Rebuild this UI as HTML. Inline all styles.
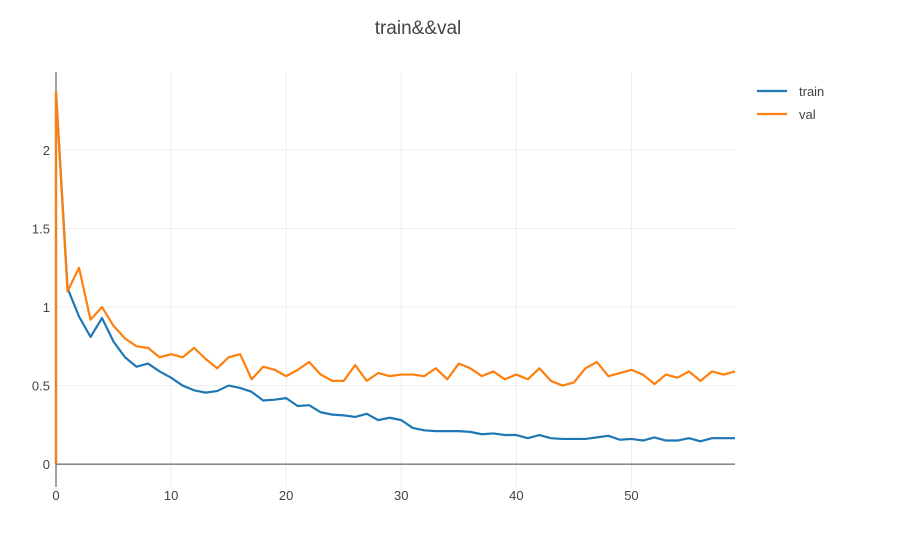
<!DOCTYPE html>
<html><head><meta charset="utf-8"><style>
body{margin:0;background:#fff;font-family:"Liberation Sans",sans-serif}
svg text{font-family:"Liberation Sans",sans-serif}
</style></head><body>
<svg id="c" width="908" height="540"></svg>
<script>
const trainVals=[0,2.37,1.12,0.94,0.81,0.93,0.78,0.68,0.62,0.64,0.59,0.55,0.50,0.47,0.455,0.465,0.50,0.485,0.46,0.405,0.41,0.42,0.37,0.375,0.33,0.315,0.31,0.30,0.32,0.28,0.295,0.28,0.23,0.215,0.21,0.21,0.21,0.205,0.19,0.195,0.185,0.185,0.165,0.185,0.165,0.16,0.16,0.16,0.17,0.18,0.155,0.16,0.15,0.17,0.15,0.15,0.165,0.145,0.165,0.165,0.165];
const valVals=[0,2.37,1.10,1.25,0.92,1.00,0.88,0.80,0.75,0.74,0.68,0.70,0.68,0.74,0.67,0.61,0.68,0.70,0.54,0.62,0.60,0.56,0.60,0.65,0.57,0.53,0.53,0.63,0.53,0.58,0.56,0.57,0.57,0.56,0.61,0.54,0.64,0.61,0.56,0.59,0.54,0.57,0.54,0.61,0.53,0.50,0.52,0.61,0.65,0.56,0.58,0.60,0.57,0.51,0.57,0.55,0.59,0.53,0.59,0.57,0.59];
const xVals=[0].concat(Array.from({length:60},(_,i)=>i));
const xTicks=[0,10,20,30,40,50];
const yTicks=[0,0.5,1,1.5,2];
const yTickLabels=["0","0.5","1","1.5","2"];
const X0=56,X1=735,Y0=72,Y1=487,xmin=0,xmax=59,ymin=-0.146,ymax=2.497;
const sx=v=>X0+(v-xmin)/(xmax-xmin)*(X1-X0);
const sy=v=>Y1-(v-ymin)/(ymax-ymin)*(Y1-Y0);
const svg=document.getElementById('c');const NS='http://www.w3.org/2000/svg';
function mk(t,a,p){const e=document.createElementNS(NS,t);for(const k in a)e.setAttribute(k,a[k]);(p||svg).appendChild(e);return e;}
xTicks.forEach(t=>{if(t>0){const l=mk('line',{x1:sx(t),x2:sx(t),y1:Y0,y2:Y1,stroke:'#eee','stroke-width':1});

}
const tx=mk('text',{x:sx(t),y:500,'text-anchor':'middle','font-size':13,fill:'#444'});tx.textContent=t;

});
yTicks.forEach((t,i)=>{if(t>0){const l=mk('line',{x1:X0,x2:X1,y1:sy(t),y2:sy(t),stroke:'#eee','stroke-width':1});

}
const tx=mk('text',{x:50,y:sy(t)+5,'text-anchor':'end','font-size':13,fill:'#444'});tx.textContent=yTickLabels[i];

});
const z=mk('line',{x1:X0,x2:X1,y1:sy(0),y2:sy(0),stroke:'#444','stroke-width':1});


const ya=mk('line',{x1:X0,x2:X0,y1:Y0,y2:Y1,stroke:'#444','stroke-width':1});


function series(vals,color,name){const p=mk('polyline',{points:vals.map((v,i)=>sx(xVals[i])+','+sy(v)).join(' '),fill:'none',stroke:color,'stroke-width':2.2,'stroke-linejoin':'round'});

}
series(trainVals,'#1f77b4','train-line');
series(valVals,'#ff7f0e','val-line');
const ti=mk('text',{x:418,y:34,'text-anchor':'middle','font-size':19,fill:'#444'});ti.textContent='train&&val';


[['train','#1f77b4',91],['val','#ff7f0e',114]].forEach(([n,c,y])=>{const g=mk('g',{});


mk('line',{x1:757,x2:787,y1:y,y2:y,stroke:c,'stroke-width':2.2},g);
const t=mk('text',{x:799,y:y+5,'font-size':13,fill:'#444'},g);t.textContent=n;});
</script>
</body></html>
